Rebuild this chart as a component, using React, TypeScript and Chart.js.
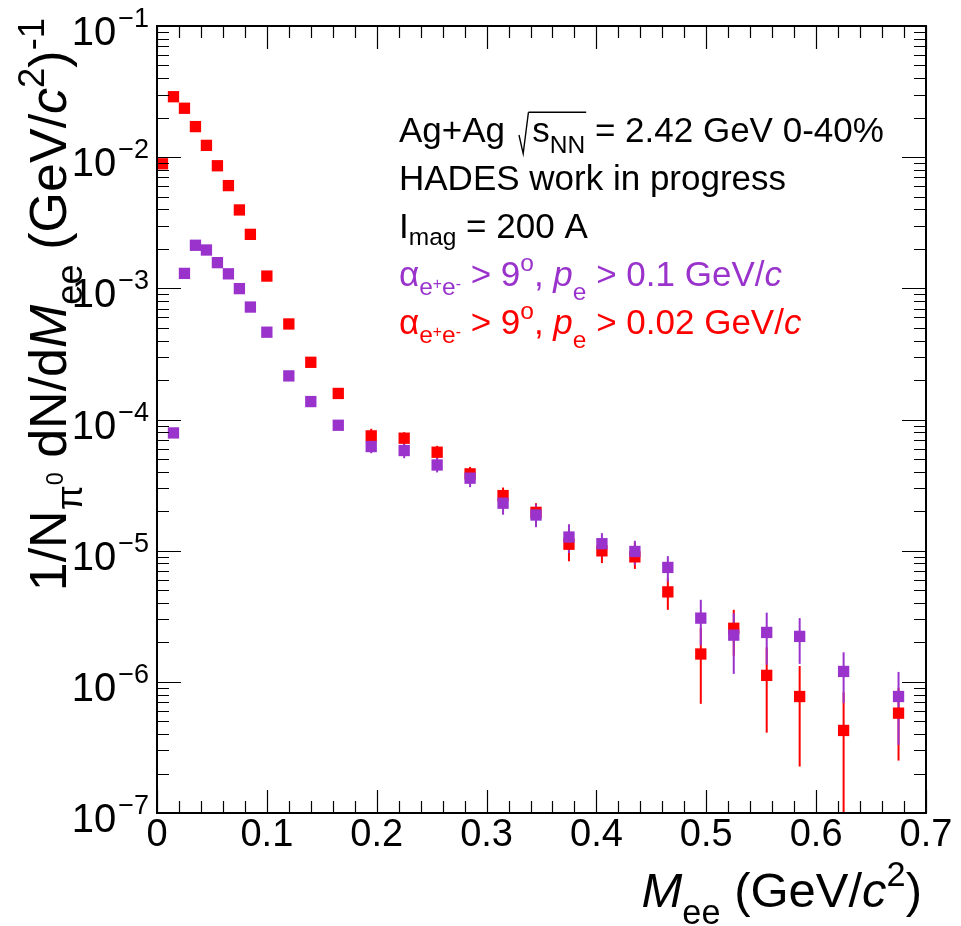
import React, { useEffect, useRef } from "react";
import { Chart, registerables } from "chart.js";

Chart.register(...registerables);

const W = 961;
const H = 926;
const FONT = '"Liberation Sans", Arial, Helvetica, sans-serif';
const RED = "#ff0000";
const PURPLE = "#9933cc";

// ---- data (bin centres in GeV/c^2) ----
const massCenters = [
  0.005, 0.015, 0.025, 0.035, 0.045, 0.055, 0.065, 0.075, 0.085, 0.1, 0.12, 0.14, 0.165,
  0.195, 0.225, 0.255, 0.285, 0.315, 0.345, 0.375, 0.405, 0.435, 0.465, 0.495, 0.525, 0.555,
  0.585, 0.625, 0.675,
];

// alpha > 9 deg, p_e > 0.02 GeV/c (red)
const yieldPe002 = [
  8.9e-3, 2.89e-2, 2.36e-2, 1.71e-2, 1.23e-2, 8.6e-3, 6.07e-3, 3.96e-3, 2.58e-3, 1.24e-3,
  5.35e-4, 2.73e-4, 1.58e-4, 7.5e-5, 7.2e-5, 5.63e-5, 3.85e-5, 2.63e-5, 1.96e-5, 1.12e-5,
  9.97e-6, 8.97e-6, 4.85e-6, 1.63e-6, 2.56e-6, 1.12e-6, 7.73e-7, 4.26e-7, 5.77e-7,
];
const errHighPe002 = [
  null, null, null, null, null, null, null, null, null, null, null, null, null,
  8.5e-5, 8.0e-5, 6.3e-5, 4.35e-5, 3.03e-5, 2.3e-5, 1.45e-5, 1.25e-5, 1.15e-5, 6.16e-6,
  2.58e-6, 3.54e-6, 1.83e-6, 1.32e-6, 8.3e-7, 9.0e-7,
];
const errLowPe002 = [
  null, null, null, null, null, null, null, null, null, null, null, null, null,
  6.6e-5, 6.4e-5, 5.0e-5, 3.4e-5, 2.25e-5, 1.65e-5, 8.3e-6, 8.04e-6, 7.26e-6, 3.54e-6,
  6.8e-7, 1.58e-6, 4.1e-7, 2.26e-7, 1e-8, 2.51e-7,
];

// alpha > 9 deg, p_e > 0.1 GeV/c (purple)
const yieldPe01 = [
  null, 7.9e-5, 1.3e-3, 2.13e-3, 1.96e-3, 1.57e-3, 1.29e-3, 9.95e-4, 7.2e-4, 4.63e-4,
  2.15e-4, 1.37e-4, 9.04e-5, 6.22e-5, 5.8e-5, 4.5e-5, 3.57e-5, 2.3e-5, 1.87e-5, 1.27e-5,
  1.13e-5, 9.86e-6, 7.45e-6, 3.06e-6, 2.27e-6, 2.38e-6, 2.22e-6, 1.2e-6, 7.73e-7,
];
const errHighPe01 = [
  null, null, null, null, null, null, null, null, null, null, null, null, null,
  6.9e-5, 6.5e-5, 5.1e-5, 4.1e-5, 2.75e-5, 2.25e-5, 1.59e-5, 1.36e-5, 1.19e-5, 9.08e-6,
  4.22e-6, 3.34e-6, 3.37e-6, 3.06e-6, 1.68e-6, 1.19e-6,
];
const errLowPe01 = [
  null, null, null, null, null, null, null, null, null, null, null, null, null,
  5.53e-5, 5.07e-5, 3.95e-5, 3.05e-5, 1.88e-5, 1.51e-5, 9.6e-6, 9.0e-6, 7.8e-6, 5.8e-6,
  1.9e-6, 1.15e-6, 1.35e-6, 1.37e-6, 6.87e-7, 3.31e-7,
];

// ---- axes ----
const xTickValues = [0, 0.1, 0.2, 0.3, 0.4, 0.5, 0.6, 0.7];
const xTickLabels = ["0", "0.1", "0.2", "0.3", "0.4", "0.5", "0.6", "0.7"];
const yDecades = [1e-1, 1e-2, 1e-3, 1e-4, 1e-5, 1e-6, 1e-7];
const yTickExponents = ["\u22121", "\u22122", "\u22123", "\u22124", "\u22125", "\u22126", "\u22127"];
const X_MIN = 0;
const X_MAX = 0.7;
const Y_MIN = 1e-7;
const Y_MAX = 1e-1;

// ---- rich text ----
type Seg = { t: string; k?: "sub" | "sup" | "subsup"; it?: boolean; rad?: boolean; dy?: number };

const STY: Record<string, [number, number]> = {
  n: [1, 0],
  sub: [0.7, 0.25],
  sup: [0.7, -0.42],
  subsup: [0.45, 0.08],
};

function rich(ctx: CanvasRenderingContext2D, segs: Seg[], x: number, y: number, F: number, draw: boolean) {
  let cx = x;
  let radStart: number | null = null;
  let lastEnd = x;
  for (const s of segs) {
    if (radStart !== null && !s.rad) {
      if (draw) {
        ctx.beginPath();
        ctx.moveTo(radStart, y - 0.85 * F);
        ctx.lineTo(lastEnd + 1, y - 0.85 * F);
        ctx.stroke();
      }
      radStart = null;
    }
    if (s.rad && radStart === null) {
      const x0 = cx + 0.12 * F;
      if (draw) {
        ctx.lineWidth = 1.4;
        ctx.beginPath();
        ctx.moveTo(x0, y - 0.2 * F);
        ctx.lineTo(x0 + 0.12 * F, y + 0.33 * F);
        ctx.lineTo(x0 + 0.27 * F, y - 0.85 * F);
        ctx.stroke();
      }
      radStart = x0 + 0.27 * F;
      cx += 0.5 * F;
    }
    const [sc, dy0] = STY[s.k || "n"];
    const dy = s.dy !== undefined ? s.dy : dy0;
    ctx.font = `${s.it ? "italic " : ""}${sc * F}px ${FONT}`;
    if (draw) ctx.fillText(s.t, cx, y + dy * F);
    cx += ctx.measureText(s.t).width;
    lastEnd = cx;
  }
  if (radStart !== null && draw) {
    ctx.beginPath();
    ctx.moveTo(radStart, y - 0.85 * F);
    ctx.lineTo(lastEnd + 1, y - 0.85 * F);
    ctx.stroke();
  }
  return cx - x;
}

const alphaPart: Seg[] = [
  { t: "\u03b1" }, { t: "e", k: "sub" }, { t: "+", k: "subsup" }, { t: "e", k: "sub" }, { t: "-", k: "subsup" },
  { t: " > 9" }, { t: "o", k: "sup" }, { t: ", " }, { t: "p", it: true }, { t: "e", k: "sub", dy: 0.4 },
];

const infoLines: { segs: Seg[]; color: string }[] = [
  {
    color: "#000000",
    segs: [
      { t: "Ag+Ag " },
      { t: "s", rad: true },
      { t: "NN", k: "sub", rad: true, dy: 0.3 },
      { t: " = 2.42 GeV 0-40%" },
    ],
  },
  { color: "#000000", segs: [{ t: "HADES work in progress" }] },
  { color: "#000000", segs: [{ t: "I" }, { t: "mag", k: "sub", dy: 0.2 }, { t: " = 200 A" }] },
  { color: PURPLE, segs: [...alphaPart, { t: " > 0.1 GeV/" }, { t: "c", it: true }] },
  { color: RED, segs: [...alphaPart, { t: " > 0.02 GeV/" }, { t: "c", it: true }] },
];

const xTitle: Seg[] = [
  { t: "M", it: true }, { t: "ee", k: "sub", dy: 0.35 }, { t: " (GeV/" }, { t: "c", it: true }, { t: "2", k: "sup" }, { t: ")" },
];
const yTitle: Seg[] = [
  { t: "1/N" }, { t: "\u03c0", k: "sub", dy: 0.3 }, { t: "0", k: "subsup", dy: -0.05 }, { t: " dN/d" }, { t: "M", it: true },
  { t: "ee", k: "sub", dy: 0.3 }, { t: " (GeV/" }, { t: "c", it: true }, { t: "2", k: "sup" }, { t: ")" }, { t: "-1", k: "sup" },
];

function drawErrors(chart: any, highs: (number | null)[], lows: (number | null)[], color: string) {
  const ctx = chart.ctx as CanvasRenderingContext2D;
  const xs = chart.scales.x;
  const ys = chart.scales.y;
  ctx.save();
  ctx.strokeStyle = color;
  ctx.lineWidth = 2;
  for (let i = 0; i < massCenters.length; i++) {
    const hi = highs[i];
    const lo = lows[i];
    if (hi == null || lo == null) continue;
    const px = xs.getPixelForValue(massCenters[i]);
    ctx.beginPath();
    ctx.moveTo(px, ys.getPixelForValue(hi));
    ctx.lineTo(px, ys.getPixelForValue(lo));
    ctx.stroke();
  }
  ctx.restore();
}

const hadesPlugin = {
  id: "hadesDecor",
  beforeDatasetsDraw(chart: any) {
    const ctx = chart.ctx as CanvasRenderingContext2D;
    const a = chart.chartArea;
    ctx.save();
    ctx.beginPath();
    ctx.rect(a.left, a.top, a.right - a.left, a.bottom - a.top);
    ctx.clip();
    drawErrors(chart, errHighPe002, errLowPe002, RED);
    drawErrors(chart, errHighPe01, errLowPe01, PURPLE);
    ctx.restore();
  },
  afterDraw(chart: any) {
    const ctx = chart.ctx as CanvasRenderingContext2D;
    const a = chart.chartArea;
    const xs = chart.scales.x;
    const ys = chart.scales.y;
    ctx.save();
    ctx.strokeStyle = "#000000";
    ctx.fillStyle = "#000000";

    // frame
    ctx.lineWidth = 2;
    ctx.strokeRect(a.left, a.top, a.right - a.left, a.bottom - a.top);

    // x ticks (bottom & top)
    ctx.lineWidth = 1.2;
    for (let k = 0; k <= 35; k++) {
      const v = X_MIN + (k * (X_MAX - X_MIN)) / 35;
      const px = Math.round(xs.getPixelForValue(v)) + 0.5;
      const major = k % 5 === 0;
      const len = major ? 23 : 12;
      ctx.beginPath();
      ctx.moveTo(px, a.bottom);
      ctx.lineTo(px, a.bottom - len);
      ctx.moveTo(px, a.top);
      ctx.lineTo(px, a.top + len);
      ctx.stroke();
    }
    // y ticks (left & right)
    for (const d of yDecades) {
      for (let m = 1; m <= 9; m++) {
        const v = d * m;
        if (v > Y_MAX * 1.0001 || v < Y_MIN * 0.9999) continue;
        const py = Math.round(ys.getPixelForValue(v)) + 0.5;
        const len = m === 1 ? 24 : 12;
        ctx.beginPath();
        ctx.moveTo(a.left, py);
        ctx.lineTo(a.left + len, py);
        ctx.moveTo(a.right, py);
        ctx.lineTo(a.right - len, py);
        ctx.stroke();
      }
    }

    // x tick labels
    ctx.textBaseline = "alphabetic";
    ctx.textAlign = "center";
    ctx.font = `38px ${FONT}`;
    xTickValues.forEach((v, i) => {
      ctx.fillText(xTickLabels[i], xs.getPixelForValue(v), a.bottom + 33);
    });

    // y tick labels: 10^exp, right aligned
    ctx.textAlign = "left";
    const FB = 40;
    const FE = 27;
    yDecades.forEach((v, i) => {
      const py = ys.getPixelForValue(v);
      ctx.font = `${FB}px ${FONT}`;
      const wb = ctx.measureText("10").width;
      ctx.font = `${FE}px ${FONT}`;
      const we = ctx.measureText(yTickExponents[i]).width;
      const right = a.left - 8;
      const x0 = right - we - wb - 2;
      ctx.font = `${FB}px ${FONT}`;
      ctx.fillText("10", x0, py + 19);
      ctx.font = `${FE}px ${FONT}`;
      ctx.fillText(yTickExponents[i], x0 + wb + 2, py + 1);
    });

    // x title (right aligned near axis end)
    const FX = 49;
    const wx = rich(ctx, xTitle, 0, 0, FX, false);
    rich(ctx, xTitle, 922 - wx, 907, FX, true);

    // y title (rotated, right aligned to top)
    const FY = 52;
    const wy = rich(ctx, yTitle, 0, 0, FY, false);
    ctx.save();
    ctx.translate(66, 18 + wy);
    ctx.rotate(-Math.PI / 2);
    rich(ctx, yTitle, 0, 0, FY, true);
    ctx.restore();

    // info text
    const FL = 35;
    infoLines.forEach((ln, i) => {
      ctx.fillStyle = ln.color;
      ctx.strokeStyle = ln.color;
      rich(ctx, ln.segs, 399, 142 + i * 48, FL, true);
    });
    ctx.restore();
  },
};

export default function App() {
  const canvasRef = useRef<HTMLCanvasElement | null>(null);

  useEffect(() => {
    const canvas = canvasRef.current;
    if (!canvas) return;
    const toPoints = (vals: (number | null)[]) =>
      massCenters
        .map((x, i) => ({ x, y: vals[i] }))
        .filter((p) => p.y != null) as { x: number; y: number }[];

    const chart = new Chart(canvas, {
      type: "scatter",
      data: {
        datasets: [
          {
            label: "alpha > 9, pe > 0.1 GeV/c",
            data: toPoints(yieldPe01),
            backgroundColor: PURPLE,
            borderColor: PURPLE,
            borderWidth: 0,
            pointStyle: "rect",
            pointRadius: 8,
            order: 0,
          },
          {
            label: "alpha > 9, pe > 0.02 GeV/c",
            data: toPoints(yieldPe002),
            backgroundColor: RED,
            borderColor: RED,
            borderWidth: 0,
            pointStyle: "rect",
            pointRadius: 8,
            order: 1,
          },
        ],
      },
      options: {
        responsive: false,
        animation: false,
        devicePixelRatio: 1,
        events: [],
        layout: { padding: { left: 157, right: 35, top: 26, bottom: 113 } },
        scales: {
          x: { type: "linear", min: X_MIN, max: X_MAX, display: false },
          y: { type: "logarithmic", min: Y_MIN, max: Y_MAX, display: false },
        },
        plugins: {
          legend: { display: false },
          tooltip: { enabled: false },
        },
      },
      plugins: [hadesPlugin],
    } as any);
    return () => chart.destroy();
  }, []);

  return (
    <div style={{ position: "absolute", left: 0, top: 0, width: W, height: H, background: "#ffffff" }}>
      <canvas ref={canvasRef} width={W} height={H} style={{ display: "block", width: W, height: H }} />
    </div>
  );
}
